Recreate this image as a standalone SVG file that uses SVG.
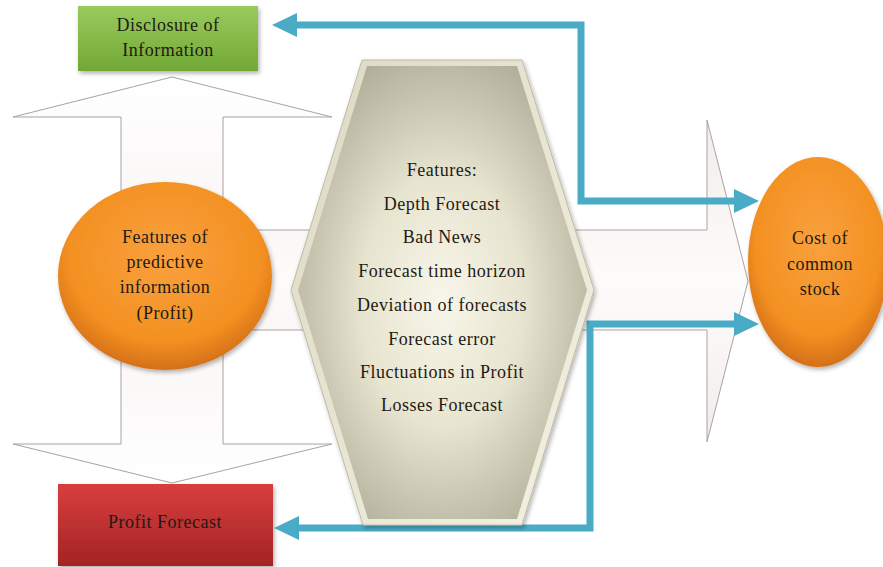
<svg xmlns="http://www.w3.org/2000/svg" width="883" height="567" viewBox="0 0 883 567">
  <defs>
    <style>
      .lbl { font-family: "Liberation Serif", "Times New Roman", serif; font-size: 18px; fill: #1e1a14; text-anchor: middle; letter-spacing: 0.5px; }
      .conn { fill: none; stroke: #4aabc6; stroke-width: 7; stroke-linejoin: miter; marker-start: url(#ah); marker-end: url(#ah); }
      .bigarrow { stroke: #aaa2a2; stroke-width: 1; }
    </style>
    <marker id="ah" viewBox="0 0 25 24" markerWidth="25" markerHeight="24" refX="0" refY="12" markerUnits="userSpaceOnUse" orient="auto-start-reverse">
      <path d="M0,0 L25,12 L0,24 z" fill="#4aabc6"/>
    </marker>
    <filter id="sh" x="-20%" y="-20%" width="140%" height="140%">
      <feDropShadow dx="1.5" dy="2.5" stdDeviation="2" flood-color="#000" flood-opacity="0.3"/>
    </filter>
    <linearGradient id="gGreen" x1="0" y1="0" x2="0" y2="1">
      <stop offset="0" stop-color="#99cb5c"/>
      <stop offset="1" stop-color="#72a836"/>
    </linearGradient>
    <linearGradient id="gRed" x1="0" y1="0" x2="0" y2="1">
      <stop offset="0" stop-color="#d83e3e"/>
      <stop offset="1" stop-color="#a42424"/>
    </linearGradient>
    <radialGradient id="gOrange" cx="0.5" cy="0.4" r="0.6">
      <stop offset="0" stop-color="#f9a13f"/>
      <stop offset="0.75" stop-color="#f39021"/>
      <stop offset="1" stop-color="#d47018"/>
    </radialGradient>
    <radialGradient id="gHex" cx="0.5" cy="0.52" r="0.62">
      <stop offset="0" stop-color="#f8f6ea"/>
      <stop offset="0.45" stop-color="#e7e4cf"/>
      <stop offset="1" stop-color="#a9a692"/>
    </radialGradient>
    <linearGradient id="gHexRim" x1="0" y1="0" x2="1" y2="1">
      <stop offset="0" stop-color="#ddd9c4"/>
      <stop offset="1" stop-color="#f3f1e2"/>
    </linearGradient>
    <linearGradient id="gVert" x1="0" y1="0" x2="0" y2="1">
      <stop offset="0" stop-color="#ffffff"/>
      <stop offset="0.5" stop-color="#f8f3f1"/>
      <stop offset="1" stop-color="#ffffff"/>
    </linearGradient>
    <linearGradient id="gRight" x1="0" y1="0" x2="0" y2="1">
      <stop offset="0" stop-color="#f1ecec"/>
      <stop offset="0.5" stop-color="#fefcfb"/>
      <stop offset="1" stop-color="#f1ecec"/>
    </linearGradient>
  </defs>

  <g id="arrow-vertical">
    <polygon class="bigarrow" fill="url(#gVert)" points="172,77 332,117 223,117 223,444 332,444 172,483 13,444 121,444 121,117 13,117"/>
  </g>

  <g id="arrow-right">
    <polygon class="bigarrow" fill="url(#gRight)" points="223,230 707,230 707,120 748,281 707,442 707,330 223,330"/>
  </g>

  <g id="connectors">
    <path class="conn" d="M297,25 H581 V201 H734"/>
    <path class="conn" d="M734,324 H590 V528 H299"/>
  </g>

  <g id="features-hexagon">
    <polygon points="362,60 522,60 594,290 522,525 363,525 291,290" fill="url(#gHexRim)" stroke="#bfbba4" stroke-width="1" filter="url(#sh)"/>
    <polygon points="367,66 517,66 587,290 517,519 368,519 298,290" fill="url(#gHex)"/>
    <text class="lbl" x="442" y="176">Features:</text>
    <text class="lbl" x="442" y="210">Depth Forecast</text>
    <text class="lbl" x="442" y="243">Bad News</text>
    <text class="lbl" x="442" y="277">Forecast time horizon</text>
    <text class="lbl" x="442" y="311">Deviation of forecasts</text>
    <text class="lbl" x="442" y="345">Forecast error</text>
    <text class="lbl" x="442" y="378">Fluctuations in Profit</text>
    <text class="lbl" x="442" y="411">Losses Forecast</text>
  </g>

  <g id="disclosure">
    <rect x="78" y="6" width="180" height="65" fill="url(#gGreen)" filter="url(#sh)"/>
    <text class="lbl" x="168" y="31">Disclosure of</text>
    <text class="lbl" x="168" y="56">Information</text>
  </g>

  <g id="profit-forecast">
    <rect x="58" y="484" width="215" height="82" fill="url(#gRed)" filter="url(#sh)"/>
    <text class="lbl" x="165" y="528">Profit Forecast</text>
  </g>

  <g id="predictive-info">
    <ellipse cx="165" cy="276" rx="107" ry="94" fill="url(#gOrange)" filter="url(#sh)"/>
    <text class="lbl" x="165" y="243">Features of</text>
    <text class="lbl" x="165" y="268">predictive</text>
    <text class="lbl" x="165" y="293">information</text>
    <text class="lbl" x="165" y="319">(Profit)</text>
  </g>

  <g id="cost-common-stock">
    <ellipse cx="818" cy="262" rx="70" ry="105" fill="url(#gOrange)" filter="url(#sh)"/>
    <text class="lbl" x="820" y="244">Cost of</text>
    <text class="lbl" x="820" y="270">common</text>
    <text class="lbl" x="820" y="295">stock</text>
  </g>
</svg>
